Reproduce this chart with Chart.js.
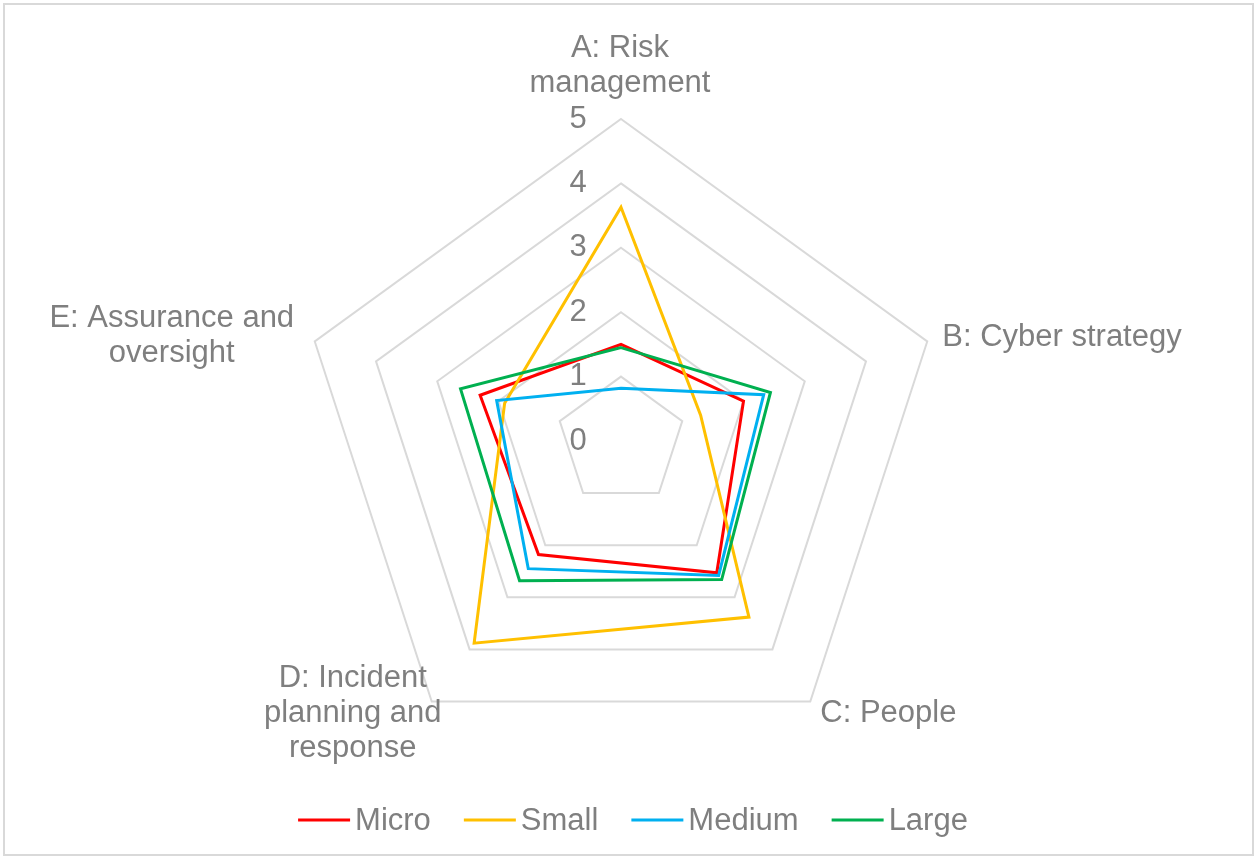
<!DOCTYPE html>
<html>
<head>
<meta charset="utf-8">
<title>Cyber maturity by business size</title>
<script src="https://cdn.jsdelivr.net/npm/chart.js@4.4.0/dist/chart.umd.min.js"></script>
<style>
  html, body { margin: 0; padding: 0; background: #fff; }
  #wrap { width: 1256px; height: 858px; }
</style>
</head>
<body>
<div id="wrap"><canvas id="radarCanvas" width="1256" height="858"></canvas></div>
<script>
// ---------- data ----------
const categories = [
    ['A: Risk', 'management'],
    ['B: Cyber strategy'],
    ['C: People'],
    ['D: Incident', 'planning and', 'response'],
    ['E: Assurance and', 'oversight']
];
const tickLabels = ['0', '1', '2', '3', '4', '5'];
const seriesNames = ['Micro', 'Small', 'Medium', 'Large'];

const microScores  = [1.50, 2.00, 2.53, 2.18, 2.30];
const smallScores  = [3.63, 1.30, 3.38, 3.88, 1.90];
const mediumScores = [0.82, 2.33, 2.58, 2.45, 2.03];
const largeScores  = [1.45, 2.44, 2.66, 2.68, 2.62];

const seriesColors = ['#ff0000', '#ffc000', '#00b0f0', '#00b050'];

// ---------- look ----------
const FONT = '31px "Liberation Sans", Arial, Helvetica, sans-serif';
const TEXT_GREY = '#7f7f7f';

// where each category label sits relative to its outer vertex
const labelPlacement = [
    { align: 'center', dx: -1,   dy: -53 },
    { align: 'left',   dx: 15,   dy: -4 },
    { align: 'left',   dx: 10,   dy: 12 },
    { align: 'center', dx: -79,  dy: 12 },
    { align: 'center', dx: -143, dy: -6 }
];
const LABEL_LINE = 35;

// thin grey frame round the whole chart
const chartFrame = {
    id: 'chartFrame',
    beforeDraw(chart) {
        const ctx = chart.ctx;
        ctx.save();
        ctx.fillStyle = '#ffffff';
        ctx.fillRect(0, 0, chart.width, chart.height);
        ctx.strokeStyle = '#d9d9d9';
        ctx.lineWidth = 2;
        ctx.strokeRect(4, 4, chart.width - 7, chart.height - 7);
        ctx.restore();
    }
};

// value labels up the left of the A axis, including 0 at the centre
const radarTicks = {
    id: 'radarTicks',
    beforeDatasetsDraw(chart) {
        const r = chart.scales.r;
        const ctx = chart.ctx;
        ctx.save();
        ctx.font = FONT;
        ctx.fillStyle = TEXT_GREY;
        ctx.textAlign = 'center';
        ctx.textBaseline = 'middle';
        tickLabels.forEach(label => {
            const d = r.getDistanceFromCenterForValue(Number(label));
            ctx.fillText(label, r.xCenter - 43, r.yCenter - d);
        });
        ctx.restore();
    }
};

// category names, multi-line ones centred on each other
const categoryLabels = {
    id: 'categoryLabels',
    afterDraw(chart) {
        const r = chart.scales.r;
        const ctx = chart.ctx;
        ctx.save();
        ctx.font = FONT;
        ctx.fillStyle = TEXT_GREY;
        ctx.textBaseline = 'middle';
        chart.data.labels.forEach((lines, i) => {
            const p = r.getPointPosition(i, r.drawingArea);
            const place = labelPlacement[i];
            ctx.textAlign = place.align;
            const cy = p.y + place.dy;
            lines.forEach((txt, k) => {
                ctx.fillText(txt, p.x + place.dx, cy + (k - (lines.length - 1) / 2) * LABEL_LINE);
            });
        });
        ctx.restore();
    }
};

// legend with a short line sample in front of each series name
const lineLegend = {
    id: 'lineLegend',
    afterDraw(chart) {
        const ctx = chart.ctx;
        const sets = chart.data.datasets;
        const sample = 52, gap = 5, spacing = 33;
        ctx.save();
        ctx.font = FONT;
        const widths = sets.map(ds => sample + gap + ctx.measureText(ds.label).width);
        const total = widths.reduce((a, b) => a + b, 0) + spacing * (sets.length - 1);
        let x = 633 - total / 2;
        const y = 820;
        sets.forEach((ds, i) => {
            ctx.strokeStyle = ds.borderColor;
            ctx.lineWidth = 3;
            ctx.beginPath();
            ctx.moveTo(x, y);
            ctx.lineTo(x + sample, y);
            ctx.stroke();
            ctx.fillStyle = TEXT_GREY;
            ctx.textAlign = 'left';
            ctx.textBaseline = 'middle';
            ctx.fillText(ds.label, x + sample + gap, y + 1);
            x += widths[i] + spacing;
        });
        ctx.restore();
    }
};

const seriesData = [microScores, smallScores, mediumScores, largeScores];

const radarChart = new Chart(document.getElementById('radarCanvas'), {
    type: 'radar',
    data: {
        labels: categories,
        datasets: seriesNames.map((name, i) => ({
            label: name,
            data: seriesData[i],
            borderColor: seriesColors[i],
            backgroundColor: seriesColors[i],
            borderWidth: 3,
            fill: false,
            pointRadius: 0,
            pointHoverRadius: 0,
            order: seriesNames.length - i   // later series drawn on top
        }))
    },
    options: {
        responsive: false,
        animation: false,
        layout: { padding: { top: 119, bottom: 95, left: 0, right: 14 } },
        plugins: {
            legend: { display: false },
            tooltip: { enabled: false }
        },
        scales: {
            r: {
                min: 0,
                max: 5,
                ticks: { stepSize: 1, display: false },
                grid: { color: '#d9d9d9', lineWidth: 2 },
                angleLines: { display: false },
                pointLabels: { display: false }
            }
        }
    },
    plugins: [chartFrame, radarTicks, categoryLabels, lineLegend]
});
</script>
</body>
</html>
